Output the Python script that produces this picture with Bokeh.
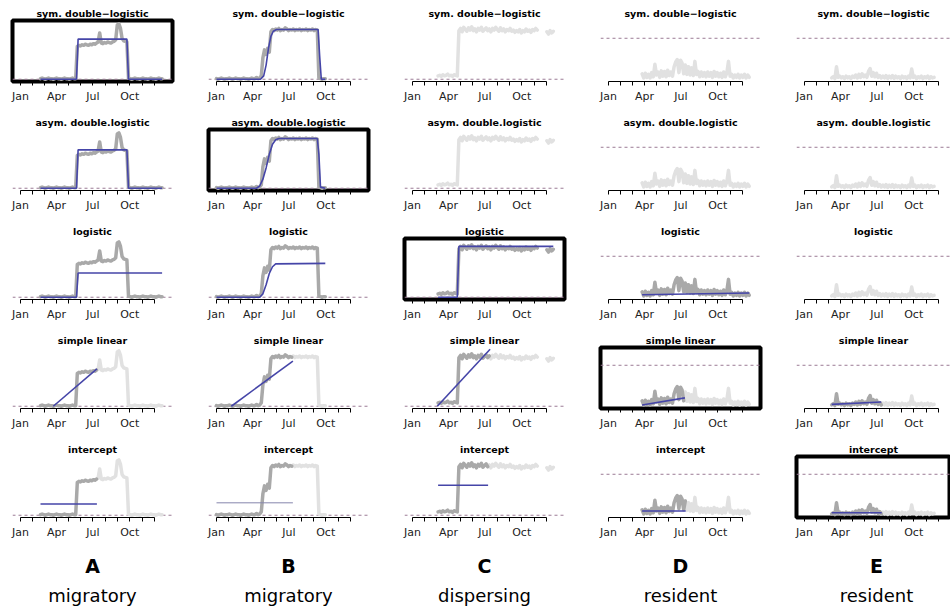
import numpy as np
from bokeh.plotting import figure
from bokeh.layouts import column, row
from bokeh.models import Range1d, FixedTicker, Span
from bokeh.core.properties import value
from bokeh.embed import file_html
from bokeh.resources import INLINE

NAN = float("nan")

# ---------------- labels ----------------
animal_letters = ["A", "B", "C", "D", "E"]
animal_types = ["migratory", "migratory", "dispersing", "resident", "resident"]
model_titles = ["sym. double\u2212logistic", "asym. double.logistic", "logistic",
                "simple linear", "intercept"]
month_ticks = [0, 31, 59, 90, 120, 151, 181, 212, 243, 273, 304, 334]
month_labels = ["Jan", "", "", "Apr", "", "", "Jul", "", "", "Oct", "", ""]

# ---------------- displacement data (every 4 days from first day) ----------------
a_start = 50
a_disp = [1, 2, 1, 0, 1, 2, 1, 1, 0, 1, 2, 1, 1, 0, 1, 2, 1, 1, 0, 1, 2, 1, 1,
          58, 60, 59, 61, 60, 62, 61, 60, 62, 61, 63, 62, 64, 66, 82, 64, 63, 65, 64, 66,
          65, 64, 66, 67, 70, 96, 98, 90, 72, 68, 67, 66,
          2, 1, 0, 1, 2, 1, 1, 0, 1, 2, 1, 1, 0, 1, 2, 1, 1, 0, 1, 2, 1, 1]

b_start = 0
b_disp = [1, 0, 1, 2, 1, 0, 1, 1, 2, 1, 0, 1, 2, 1, 1, 0, 1, 2, 1, 1, 0, 1, 2, 1, 1, 3, 1, 2, 6,
          38, 52, 44, 55, 48,
          84, 88, 86, 89, 87, 90, 86, 88, 87, 91, 89, 86, 88, 87, 89, 86, 88, 87, 89, 86,
          88, 87, 89, 86, 88, 87, 89, 86, 88, 87,
          2, 1, 0, 1, 1]

c_start = 64
c_disp = [6, 7, 5, 8, 6, 7, 9, 6, 7, 5, 8, 7, 6,
          86, 90, 84, 92, 88, 85, 91, 87, 93, 86, 89, 84, 90, 87, 92, 85, 88, 91, 86, 89,
          84, 90, 87, 92, 88, 85, 91, 86, 89, 84, 88, 86, 90, 85, 87, 83, 86, 84, 88, 82,
          86, 84, 89, 85, 87, 83, 88, 86, 90, 87,
          NAN, NAN, NAN, NAN, NAN,
          84, 80, 86, 82, 85]

d_start = 84
d_disp = [10, 3, 11, 4, 9, 3, 12, 5, 26, 8, 13, 4, 15, 6, 14, 5, 16, 7, 13, 6,
          22, 30, 34, 12, 33, 28, 10, 25, 9, 22, 8, 20, 7, 31, 9, 14, 5, 13, 6, 12,
          5, 13, 6, 12, 4, 14, 6, 12, 5, 11, 4, 13, 5, 12, 31, 6, 9, 3, 8, 4,
          9, 3, 8, 4, 9, 3, 8, 4]

e_start = 68
e_disp = [3, 5, 2, 22, 4, 6, 3, 5, 2, 6, 3, 5, 2, 6, 4, 8, 3, 9, 4, 10,
          5, 8, 4, 14, 19, 6, 12, 5, 11, 4, 7, 3, 6, 3, 7, 2, 6, 3, 7, 2,
          6, 3, 5, 2, 6, 3, 5, 2, 6, 3, 18, 4, 6, 2, 5, 3, 6, 2, 5, 3,
          6, 2, 5, 3, 4]

starts = [a_start, b_start, c_start, d_start, e_start]
disps = [a_disp, b_disp, c_disp, d_disp, e_disp]

# ---------------- fitted model curves ----------------
a_sym_x, a_sym_y = [50, 140, 144, 266, 270, 354], [0, 0, 71, 71, 0, 0]
a_asym_x, a_asym_y = [50, 140, 144, 266, 270, 354], [0, 0, 68, 68, 0, 0]
a_log_x, a_log_y = [50, 140, 144, 354], [0, 0, 43, 43]
a_lin_x, a_lin_y = [82, 191], [0, 66]
a_int_x, a_int_y = [50, 191], [20, 20]

b_sym_x = [0, 110, 118, 124, 130, 136, 142, 150, 254, 258, 262, 272]
b_sym_y = [0, 0, 6, 25, 55, 76, 85, 88, 88, 40, 0, 0]
b_asym_x = [0, 100, 108, 116, 124, 132, 140, 148, 156, 252, 256, 260, 272]
b_asym_y = [0, 0, 4, 16, 36, 60, 78, 86, 88, 88, 60, 2, 0]
b_log_x = [0, 108, 116, 124, 132, 140, 148, 272]
b_log_y = [0, 0, 6, 22, 42, 54, 59, 60]
b_lin_x, b_lin_y = [37, 191], [0, 80]
b_int_x, b_int_y = [0, 191], [22, 22]

c_log_x, c_log_y = [64, 112, 116, 352], [0, 0, 90, 90]
c_lin_x, c_lin_y = [62, 194], [0, 101]
c_int_x, c_int_y = [64, 189], [53, 53]

d_log_x, d_log_y = [84, 352], [5, 8]
d_lin_x, d_lin_y = [84, 191], [3, 15]
d_int_x, d_int_y = [84, 193], [8, 8]

e_lin_x, e_lin_y = [68, 192], [4, 8]
e_int_x, e_int_y = [68, 193], [5, 5]

fits = [
    [(a_sym_x, a_sym_y), (a_asym_x, a_asym_y), (a_log_x, a_log_y), (a_lin_x, a_lin_y), (a_int_x, a_int_y)],
    [(b_sym_x, b_sym_y), (b_asym_x, b_asym_y), (b_log_x, b_log_y), (b_lin_x, b_lin_y), (b_int_x, b_int_y)],
    [None, None, (c_log_x, c_log_y), (c_lin_x, c_lin_y), (c_int_x, c_int_y)],
    [None, None, (d_log_x, d_log_y), (d_lin_x, d_lin_y), (d_int_x, d_int_y)],
    [None, None, None, (e_lin_x, e_lin_y), (e_int_x, e_int_y)],
]
# last day of data used for each fit (None = model not fitted)
fit_end = [
    [999, 999, 999, 191, 191],
    [999, 999, 999, 191, 191],
    [None, None, 999, 192, 189],
    [None, None, 999, 191, 193],
    [None, None, None, 192, 193],
]
best_model = [0, 1, 2, 3, 4]
threshold = [None, None, None, 70, 70]
y_ranges = [(-4, 104), (-4, 104), (-4, 104), (-3, 100), (-3, 100)]

# ---------------- styling ----------------
DARK = "#a9a9a9"
LIGHT = "#e1e1e1"
BLUE = "#4545a8"
THIN_BLUE = "#8585ad"
DASH = "#9b7b95"
FONT = "DejaVu Sans"

CELL_W, CELL_H = 196, 109
PX_PER_DAY = 0.4

rows = []
for r in range(5):
    figs = []
    for i in range(5):
        w = CELL_W if i < 4 else 950 - 4 * CELL_W
        fw = 160 if i < 4 else w - 12
        p = figure(width=w, height=CELL_H,
                   x_range=Range1d(-20, -20 + fw / PX_PER_DAY),
                   y_range=Range1d(*y_ranges[i]),
                   output_backend="svg", toolbar_location=None,
                   y_axis_location=None,
                   min_border_left=12, min_border_right=w - 12 - fw,
                   min_border_top=20, min_border_bottom=28,
                   title=model_titles[r])
        p.title.text_font = FONT
        p.title.text_font_size = "9.5px"
        p.title.text_font_style = "bold"
        p.title.text_color = "black"
        p.title.align = "center"
        p.title.standoff = 3
        p.xgrid.visible = False
        p.ygrid.visible = False
        p.background_fill_color = "white"
        p.border_fill_color = "white"
        if best_model[i] == r:
            p.outline_line_color = "black"
            p.outline_line_width = 4
        else:
            p.outline_line_color = None

        ax = p.xaxis[0]
        ax.ticker = FixedTicker(ticks=month_ticks)
        ax.major_label_overrides = {t: lab for t, lab in zip(month_ticks, month_labels)}
        ax.bounds = (month_ticks[0], month_ticks[-1])
        ax.minor_tick_line_color = None
        ax.major_tick_in = 0
        ax.major_tick_out = 4
        ax.major_label_standoff = 4
        ax.major_label_text_font = FONT
        ax.major_label_text_font_size = "11px"
        ax.major_label_text_color = "#222222"
        ax.axis_line_color = "black"
        ax.major_tick_line_color = "black"

        # reference dashed line(s)
        if threshold[i] is None:
            p.add_layout(Span(location=0, dimension="width", line_color=DASH,
                              line_dash="3 3", line_width=1, level="underlay"))
        else:
            p.add_layout(Span(location=threshold[i], dimension="width", line_color=DASH,
                              line_dash="3 3", line_width=1, level="underlay"))

        vals = np.array(disps[i], dtype=float)
        days = starts[i] + 4 * np.arange(len(vals))
        cut = fit_end[i][r]
        if cut is None:
            p.line(days, vals, color=LIGHT, line_width=3.5, line_join="round", line_cap="round")
        else:
            n_dark = int((days <= cut).sum())
            if n_dark < len(days):
                p.line(days[n_dark - 1:], vals[n_dark - 1:], color=LIGHT, line_width=3.5,
                       line_join="round", line_cap="round")
            p.line(days[:n_dark], vals[:n_dark], color=DARK, line_width=3.5,
                   line_join="round", line_cap="round")

        f = fits[i][r]
        if f is not None:
            thin = (i == 1 and r == 4)
            p.line(f[0], f[1], color=THIN_BLUE if thin else BLUE,
                   line_width=1 if thin else 1.6)
        figs.append(p)
    rows.append(row(*figs, spacing=0))

# bottom labels
lab = figure(width=950, height=62, x_range=Range1d(0, 950), y_range=Range1d(0, 62),
             output_backend="svg", toolbar_location=None,
             x_axis_location=None, y_axis_location=None, min_border=0)
lab.outline_line_color = None
lab.xgrid.visible = False
lab.ygrid.visible = False
centers = [12 + 80 + CELL_W * k for k in range(5)]
lab.text(x=centers, y=[42] * 5, text=animal_letters, text_align="center",
         text_baseline="middle", text_font=value(FONT), text_font_style="bold",
         text_font_size="19px", text_color="black")
lab.text(x=centers, y=[12] * 5, text=animal_types, text_align="center",
         text_baseline="middle", text_font=value(FONT), text_font_size="18px",
         text_color="black")

layout = column(*rows, lab, spacing=0)
open("out.html", "w").write(file_html(layout, INLINE))
